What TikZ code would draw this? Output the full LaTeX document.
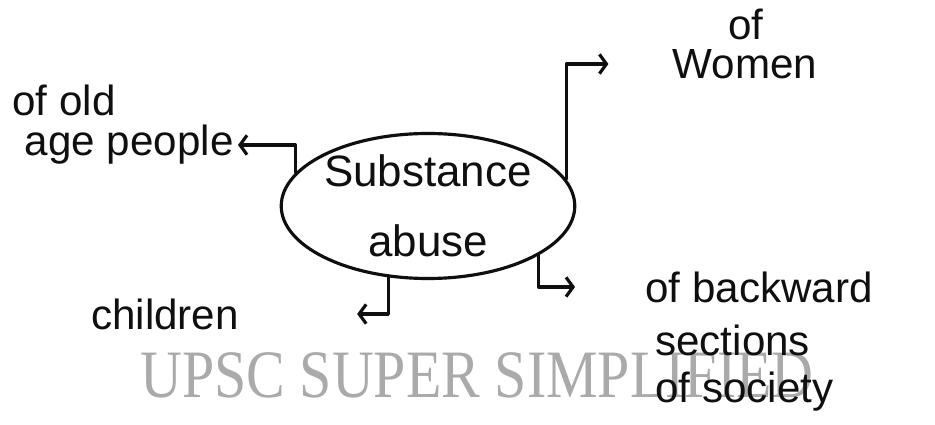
\documentclass[tikz,border=0pt]{standalone}
\usepackage{fontspec}
\setmainfont{Liberation Sans}
\newfontfamily\wmfont{Liberation Serif}
\usetikzlibrary{shapes.geometric,arrows.meta}
\definecolor{wmgray}{RGB}{170,170,170}
\definecolor{ink}{RGB}{15,15,15}
\begin{document}
\begin{tikzpicture}[x=0.02cm,y=-0.02cm,
  hand/.style={inner sep=0pt,text=ink,font=\fontsize{24}{28}\selectfont},
  conn/.style={draw=ink,line width=1.8pt,line cap=round,line join=round,
    -{Straight Barb[length=4pt,width=11pt,line width=1.8pt]}},
  bubble/.style={draw=ink,line width=1.8pt,ellipse,inner sep=0pt,
    minimum width=5.84cm,minimum height=2.36cm,align=center,text=ink,
    font=\fontsize{25}{40}\selectfont}]
\useasboundingbox[fill=white] (0,0) rectangle (935,425);
% watermark
\node[anchor=base west,inner sep=0pt,text=wmgray] (wm) at (140,397)
  {\scalebox{0.855}[1]{\wmfont\fontsize{38.6}{40}\selectfont UPSC SUPER SIMPLIFIED}};
% centre
\node[bubble] (sa) at (428,206) {Substance\\abuse};
% labels
\node[hand,anchor=west] (old1) at (12,100) {of old};
\node[hand,anchor=east] (old2) at (234,145) {age people};
\node[hand] (wof) at (746,24) {of};
\node[hand] (women) at (745,64) {Women};
\node[hand] (children) at (165,314) {children};
\node[hand,anchor=west] (back1) at (645,287) {of backward};
\node[hand,anchor=west] (back2) at (655,340) {sections};
\node[hand,anchor=west] (back3) at (655,392) {of society};
% connectors
\draw[conn,shorten >=0.08cm] (sa.166) |- (old2.east);
\draw[conn,shorten >=1.28cm] (sa.11.7) |- (women.west);
\draw[conn,shorten >=2.36cm] (sa.241.7) |- (children.east);
\draw[conn,shorten >=1.4cm] (sa.336.3) |- (back1.west);
\end{tikzpicture}
\end{document}
